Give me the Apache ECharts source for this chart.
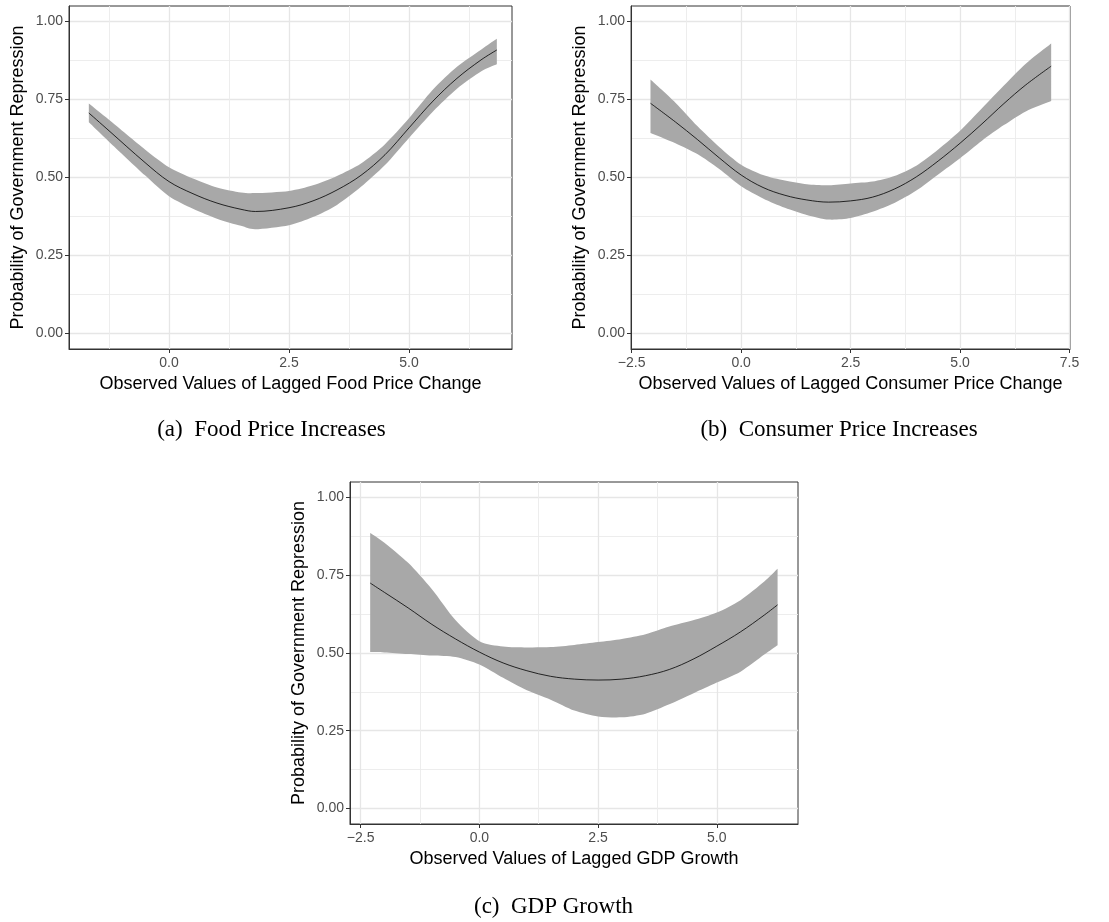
<!DOCTYPE html>
<html>
<head>
<meta charset="utf-8">
<script src="https://cdn.jsdelivr.net/npm/echarts@6/dist/echarts.min.js"></script>
<style>
html,body{margin:0;padding:0;background:#fff;}
#chart{width:1109px;height:922px;}
</style>
</head>
<body>
<div id="chart"></div>
<script>
// ---- Panel (a): Food price ----
const xA    = [-1.67,-1.25,-0.5, 0.0, 0.5, 1.0, 1.5, 1.8, 2.5, 3.0, 3.5, 4.0, 4.5, 5.0, 5.5, 6.0, 6.5, 6.83];
const fitA  = [0.707,0.650,0.548,0.487,0.448,0.418,0.398,0.391,0.403,0.425,0.460,0.507,0.573,0.659,0.745,0.818,0.877,0.909];
const upA   = [0.737,0.685,0.590,0.533,0.497,0.468,0.452,0.450,0.457,0.475,0.505,0.545,0.607,0.690,0.782,0.855,0.910,0.945];
const loA   = [0.677,0.615,0.507,0.440,0.400,0.368,0.345,0.334,0.347,0.373,0.412,0.470,0.540,0.627,0.712,0.785,0.840,0.863];
// ---- Panel (b): Consumer price ----
const xB    = [-2.07,-1.5,-1.0,-0.5, 0.0, 0.5, 1.0, 1.5, 2.0, 2.5, 3.0, 3.5, 4.0, 4.5, 5.0, 5.5, 6.0, 6.5, 7.08];
const fitB  = [0.738,0.678,0.622,0.563,0.508,0.468,0.443,0.428,0.421,0.425,0.437,0.463,0.502,0.553,0.610,0.672,0.737,0.797,0.857];
const upB   = [0.814,0.740,0.665,0.598,0.541,0.508,0.490,0.478,0.475,0.481,0.487,0.505,0.538,0.590,0.650,0.722,0.795,0.865,0.930];
const loB   = [0.643,0.610,0.575,0.527,0.472,0.433,0.403,0.380,0.365,0.370,0.390,0.418,0.458,0.510,0.562,0.618,0.668,0.712,0.745];
// ---- Panel (c): GDP growth ----
const xC    = [-2.30,-2.0,-1.5,-1.0,-0.5, 0.0, 0.5, 1.0, 1.5, 2.0, 2.5, 3.0, 3.5, 4.0, 4.5, 5.0, 5.5, 6.0, 6.28];
const fitC  = [0.725,0.695,0.645,0.592,0.545,0.503,0.468,0.443,0.425,0.416,0.413,0.416,0.427,0.447,0.480,0.522,0.568,0.622,0.655];
const upC   = [0.886,0.855,0.790,0.705,0.605,0.538,0.521,0.518,0.519,0.526,0.535,0.545,0.560,0.585,0.605,0.630,0.670,0.730,0.771];
const loC   = [0.503,0.502,0.497,0.492,0.487,0.463,0.420,0.380,0.350,0.315,0.296,0.293,0.305,0.335,0.370,0.405,0.440,0.495,0.525];

// ---- ticks ----
const xTicksA = [0.0, 2.5, 5.0];
const xTicksB = [-2.5, 0.0, 2.5, 5.0, 7.5];
const xTicksC = [-2.5, 0.0, 2.5, 5.0];
const xMinorA = [-1.25, 1.25, 3.75, 6.25];
const xMinorB = [-1.25, 1.25, 3.75, 6.25];
const xMinorC = [-1.25, 1.25, 3.75];
const yTicks  = [0.00, 0.25, 0.50, 0.75, 1.00];
const yMinor  = [0.125, 0.375, 0.625, 0.875];

const yTitle = 'Probability of Government Repression';
const xTitles = ['Observed Values of Lagged Food Price Change',
                 'Observed Values of Lagged Consumer Price Change',
                 'Observed Values of Lagged GDP Growth'];
const captions = ['(a)  Food Price Increases', '(b)  Consumer Price Increases', '(c)  GDP Growth'];

const SANS = 'Liberation Sans, Arial, sans-serif';
const SERIF = 'Liberation Serif, Times New Roman, serif';

function fmtX(v){ return (v < 0 ? '\u2212' : '') + Math.abs(v).toFixed(1); }
function fmtY(v){ return v.toFixed(2); }

const grids = [
  {left: 69,  top: 6,   width: 443, height: 343},
  {left: 631, top: 6,   width: 439, height: 343},
  {left: 350, top: 482, width: 448, height: 342}
].map(g => Object.assign(g, {show: true, borderColor: '#333333', borderWidth: 1, backgroundColor: 'transparent', containLabel: false}));

const xRanges = [[-2.083, 7.146], [-2.515, 7.51], [-2.725, 6.71]];
const xTicks = [xTicksA, xTicksB, xTicksC];
const xMinors = [xMinorA, xMinorB, xMinorC];

function mainX(i){
  return {
    type: 'value', gridIndex: i, min: xRanges[i][0], max: xRanges[i][1], position: 'bottom',
    axisLine: {show: true, onZero: false, lineStyle: {color: '#333333', width: 1}},
    axisTick: {show: true, length: 4, customValues: xTicks[i], lineStyle: {color: '#333333', width: 1}},
    axisLabel: {customValues: xTicks[i], margin: 7, fontSize: 14, color: '#4d4d4d', fontFamily: SANS, formatter: fmtX},
    splitLine: {show: true, lineStyle: {color: '#e6e6e6', width: 1.3}},
    name: xTitles[i], nameLocation: 'middle', nameGap: 26,
    nameTextStyle: {fontSize: 18, color: '#000', fontFamily: SANS}
  };
}
function minorX(i){
  return {
    type: 'value', gridIndex: i, min: xRanges[i][0], max: xRanges[i][1], position: 'top',
    axisLine: {show: false}, axisTick: {show: false, customValues: xMinors[i]},
    axisLabel: {show: false, customValues: xMinors[i]},
    splitLine: {show: true, lineStyle: {color: '#ebebeb', width: 0.9}}
  };
}
function mainY(i){
  return {
    type: 'value', gridIndex: i, min: -0.05, max: 1.05, position: 'left',
    axisLine: {show: true, onZero: false, lineStyle: {color: '#333333', width: 1}},
    axisTick: {show: true, length: 4, customValues: yTicks, lineStyle: {color: '#333333', width: 1}},
    axisLabel: {customValues: yTicks, margin: 6, fontSize: 14, color: '#4d4d4d', fontFamily: SANS, formatter: fmtY},
    splitLine: {show: true, lineStyle: {color: '#e6e6e6', width: 1.3}},
    name: yTitle, nameLocation: 'middle', nameGap: 42,
    nameTextStyle: {fontSize: 18, color: '#000', fontFamily: SANS}
  };
}
function minorY(i){
  return {
    type: 'value', gridIndex: i, min: -0.05, max: 1.05, position: 'right',
    axisLine: {show: false}, axisTick: {show: false, customValues: yMinor},
    axisLabel: {show: false, customValues: yMinor},
    splitLine: {show: true, lineStyle: {color: '#ebebeb', width: 0.9}}
  };
}

// Catmull-Rom spline through pixel points -> SVG path commands
function splinePath(pts, startCmd){
  let d = startCmd + pts[0][0] + ' ' + pts[0][1];
  const n = pts.length;
  const t = 0.8;
  for (let i = 0; i < n - 1; i++){
    const p0 = pts[Math.max(i - 1, 0)], p1 = pts[i], p2 = pts[i + 1], p3 = pts[Math.min(i + 2, n - 1)];
    const c1x = p1[0] + (p2[0] - p0[0]) / 6 * t, c1y = p1[1] + (p2[1] - p0[1]) / 6 * t;
    const c2x = p2[0] - (p3[0] - p1[0]) / 6 * t, c2y = p2[1] - (p3[1] - p1[1]) / 6 * t;
    d += ' C' + c1x + ' ' + c1y + ' ' + c2x + ' ' + c2y + ' ' + p2[0] + ' ' + p2[1];
  }
  return d;
}

const panels = [[xA, fitA, upA, loA], [xB, fitB, upB, loB], [xC, fitC, upC, loC]];
const series = [];
panels.forEach((p, i) => {
  const [xs, fit, up, lo] = p;
  series.push({
    type: 'custom', xAxisIndex: i, yAxisIndex: i, silent: true, z: 2,
    data: [[xs[0], lo[0]]],
    renderItem: function(params, api){
      const upper = xs.map((x, k) => api.coord([x, up[k]]));
      const lower = xs.map((x, k) => api.coord([x, lo[k]])).reverse();
      const d = splinePath(upper, 'M') + ' ' + splinePath(lower, 'L') + ' Z';
      return {type: 'path', shape: {pathData: d}, style: {fill: '#a8a8a8', stroke: null}};
    }
  });
  series.push({
    type: 'line', xAxisIndex: i, yAxisIndex: i, smooth: 0.35,
    data: xs.map((x, k) => [x, fit[k]]), showSymbol: false, symbol: 'none',
    lineStyle: {color: '#000', width: 0.8}, silent: true, z: 3
  });
});

const capPos = [[271.5, 430], [839, 430], [553.5, 907]];
const graphic = captions.map((c, i) => ({
  type: 'text', x: capPos[i][0], y: capPos[i][1], silent: true,
  style: {text: c, fontFamily: SERIF, fontSize: 23, fill: '#000',
          align: 'center', verticalAlign: 'middle', textAlign: 'center', textVerticalAlign: 'middle'}
}));

const chart = echarts.init(document.getElementById('chart'), null, {renderer: 'canvas'});
chart.setOption({
  animation: false,
  backgroundColor: '#ffffff',
  grid: grids,
  xAxis: [0,1,2].map(mainX).concat([0,1,2].map(minorX)),
  yAxis: [0,1,2].map(mainY).concat([0,1,2].map(minorY)),
  series: series,
  graphic: graphic
});
</script>
</body>
</html>
